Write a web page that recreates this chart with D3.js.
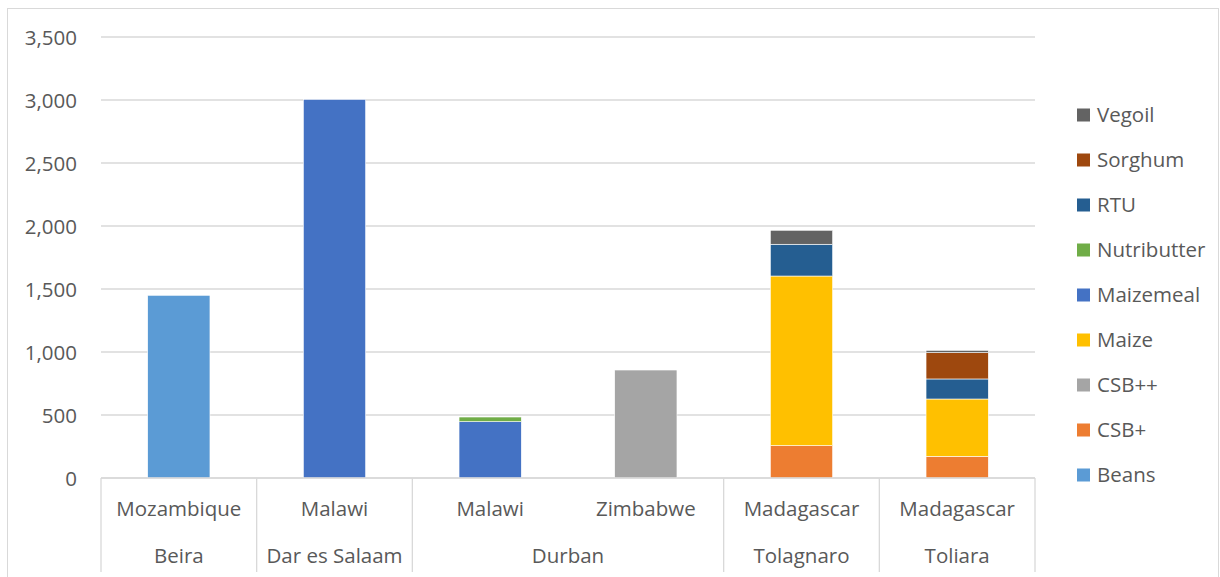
<!DOCTYPE html>
<html><head><meta charset="utf-8">
<script src="https://cdn.jsdelivr.net/npm/d3@7"></script>
<style>body{margin:0;background:#fff;font-family:"Open Sans",sans-serif;}</style>
</head><body><svg id="c" width="1220" height="577"></svg>
<script>
const categories = ["Mozambique|Beira","Malawi|Dar es Salaam","Malawi|Durban","Zimbabwe|Durban","Madagascar|Tolagnaro","Madagascar|Toliara"];
const innerLabels = ["Mozambique","Malawi","Malawi","Zimbabwe","Madagascar","Madagascar"];
const outerLabels = ["Beira","Dar es Salaam","Durban","Tolagnaro","Toliara"];
const outerSpans = [1,1,2,1,1];
const seriesNames = ["Beans","CSB+","CSB++","Maize","Maizemeal","Nutributter","RTU","Sorghum","Vegoil"];
const seriesColors = ["#5b9bd5","#ed7d31","#a5a5a5","#ffc000","#4472c4","#70ad47","#255e91","#9e480e","#636363"];
const Beans =       [1450,0,0,0,0,0];
const CSBplus =     [0,0,0,0,257,172];
const CSBplusplus = [0,0,0,857,0,0];
const Maize =       [0,0,0,0,1346,455];
const Maizemeal =   [0,3005,447,0,0,0];
const Nutributter = [0,0,37,0,0,0];
const RTU =         [0,0,0,0,252,159];
const Sorghum =     [0,0,0,0,0,209];
const Vegoil =      [0,0,0,0,111,18];
const yTicks = [0,500,1000,1500,2000,2500,3000,3500];

const seriesVals = [Beans,CSBplus,CSBplusplus,Maize,Maizemeal,Nutributter,RTU,Sorghum,Vegoil];
const rows = categories.map((c,i)=>{const r={cat:c}; seriesNames.forEach((s,j)=>r[s]=seriesVals[j][i]); return r;});
const stack = d3.stack().keys(seriesNames)(rows);

const svg = d3.select("#c");
const L=101,R=1035,T=37,B=478;
const FS="20.5px";
const x = d3.scaleBand().domain(categories).range([L,R]).paddingInner(0.6).paddingOuter(0.3);
const y = d3.scaleLinear().domain([0,3500]).range([B,T]);
const textCol="#595959", gridCol="#d9d9d9";

// frame
svg.append("rect").attr("x",7.5).attr("y",8.5).attr("width",1211).attr("height",580).attr("fill","none").attr("stroke","#d9d9d9");

// gridlines
svg.append("g").selectAll("line").data(yTicks).join("line")
  .attr("x1",L).attr("x2",R).attr("y1",d=>y(d)).attr("y2",d=>y(d))
  .attr("stroke",gridCol).attr("stroke-width",1.3);

// y labels
const yAxis = d3.axisLeft(y).tickValues(yTicks).tickFormat(d3.format(",")).tickSize(0).tickPadding(24);
const ya = svg.append("g").attr("transform",`translate(${L},0)`).call(yAxis);
ya.select(".domain").remove();
ya.selectAll("text").attr("fill",textCol).style("font-size",FS).style("font-family","Open Sans").attr("dy","0.35em");

// bars
svg.append("g").selectAll("g").data(stack).join("g").attr("fill",(d,i)=>seriesColors[i])
 .selectAll("rect").data(d=>d.filter(p=>p[1]-p[0]>0)).join("rect")
 .attr("x",d=>x(d.data.cat)).attr("width",x.bandwidth())
 .attr("y",d=>y(d[1])).attr("height",d=>y(d[0])-y(d[1]))
 .attr("stroke","#fff").attr("stroke-width",0.6);

// category axis lines
const step = x.step();
const catStart = i => L + i*step;
let bounds=[0]; let acc=0; outerSpans.forEach(s=>{acc+=s;bounds.push(acc);});
const axg = svg.append("g");
axg.append("line").attr("x1",L).attr("x2",R).attr("y1",B).attr("y2",B).attr("stroke",gridCol).attr("stroke-width",1.3);
bounds.forEach(b=>{axg.append("line").attr("x1",catStart(b)).attr("x2",catStart(b)).attr("y1",B).attr("y2",572).attr("stroke",gridCol).attr("stroke-width",1.3);});
// inner labels
axg.selectAll("text.inner").data(innerLabels).join("text").attr("class","inner")
  .attr("x",(d,i)=>x(categories[i])+x.bandwidth()/2).attr("y",516)
  .attr("text-anchor","middle").attr("fill",textCol).style("font-size",FS).text(d=>d);
axg.selectAll("text.outer").data(outerLabels).join("text").attr("class","outer")
  .attr("x",(d,i)=>(catStart(bounds[i])+catStart(bounds[i+1]))/2).attr("y",563)
  .attr("text-anchor","middle").attr("fill",textCol).style("font-size",FS).text(d=>d);

// legend
const legendOrder = seriesNames.map((s,i)=>i).reverse();
const lg = svg.append("g").selectAll("g").data(legendOrder).join("g")
  .attr("transform",(d,k)=>`translate(1077,${115+k*45})`);
lg.append("rect").attr("x",0).attr("y",-6.5).attr("width",13).attr("height",13).attr("fill",d=>seriesColors[d]);
lg.append("text").attr("x",20).attr("y",0).attr("dy","0.35em").attr("fill",textCol).style("font-size",FS).text(d=>seriesNames[d]);
</script></body></html>
